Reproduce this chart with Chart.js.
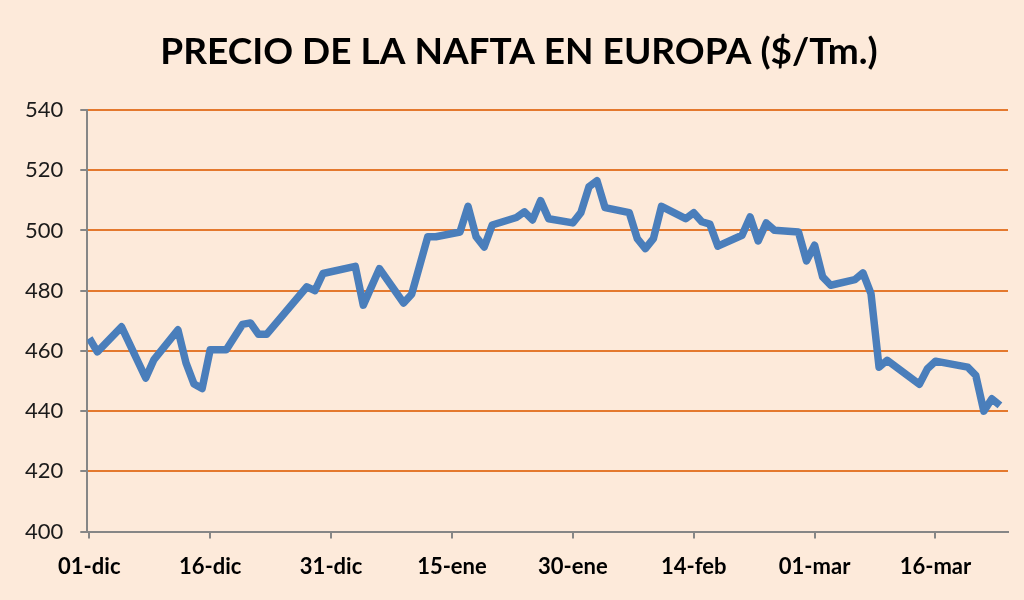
<!DOCTYPE html>
<html>
<head>
<meta charset="utf-8">
<script src="https://cdn.jsdelivr.net/npm/chart.js@4/dist/chart.umd.min.js"></script>
<style>
  html, body { margin: 0; padding: 0; background: #FDEADA; }
  #wrap { width: 1024px; height: 600px; }
</style>
</head>
<body>
<div id="wrap"><canvas id="naftaChart" width="1024" height="600"></canvas></div>
<script>
// days counted from 01-dic
const days = [0, 1, 4, 7, 8, 11, 12, 13, 14, 15, 17, 19, 20, 21, 22, 27, 28, 29, 33, 34,
    36, 39, 40, 42, 43, 46, 47, 48, 49, 50, 53, 54, 55, 56, 57, 60, 61, 62, 63, 64,
    67, 68, 69, 70, 71, 74, 75, 76, 77, 78, 81, 82, 83, 84, 85, 88, 89, 90, 91, 92,
    95, 96, 97, 98, 99, 103, 104, 105, 109, 110, 111, 112, 113];
const prices = [464.2, 459.7, 468, 451, 457, 467, 456, 449, 447.5, 460.4, 460.4, 468.8, 469.3, 465.5, 465.5, 481.3, 480, 485.7, 488.1, 475.2,
    487.3, 475.9, 478.8, 497.9, 497.9, 499.5, 508, 497.9, 494.5, 501.8, 504.3, 506.2, 503.5, 509.9, 503.9, 502.5, 505.9, 514.5, 516.5, 507.6,
    505.9, 497.3, 494, 497.3, 508, 503.9, 505.9, 502.9, 502.1, 494.8, 498.4, 504.5, 496.5, 502.5, 500.1, 499.5, 489.9, 495.1, 484.6, 481.8,
    483.7, 485.9, 479, 454.6, 456.9, 448.9, 454.1, 456.6, 454.6, 451.9, 440, 444.1, 441.9];
const dateLabels = ['01-dic', '16-dic', '31-dic', '15-ene', '30-ene', '14-feb', '01-mar', '16-mar'];
const yTicks = [400, 420, 440, 460, 480, 500, 520, 540];
const chartTitle = 'PRECIO DE LA NAFTA EN EUROPA ($/Tm.)';

const points = [];
for (let i = 0; i < days.length; i++) {
    points.push({x: days[i], y: prices[i]});
}

const axisGray = '#868686';
const gridOrange = '#E4792E';

// title is drawn by hand so it can sit a bit right of centre, like the original
const titlePlugin = {
    id: 'pageTitle',
    afterDraw(chart) {
        const c = chart.ctx;
        c.save();
        c.font = 'bold 37px Lato';
        c.fillStyle = '#000000';
        c.textAlign = 'center';
        c.textBaseline = 'middle';
        c.fillText(chartTitle, 519, 52);
        c.restore();
    }
};

const ctx = document.getElementById('naftaChart');
const chart = new Chart(ctx, {
    type: 'line',
    data: {
        datasets: [{
            label: 'Nafta',
            data: points,
            borderColor: '#4A7EBB',
            borderWidth: 7.5,
            borderJoinStyle: 'round',
            borderCapStyle: 'butt',
            pointRadius: 0,
            tension: 0,
            fill: false
        }]
    },
    options: {
        responsive: false,
        animation: false,
        layout: {
            padding: {left: 8, right: 16, top: 110, bottom: 5}
        },
        plugins: {
            legend: {display: false},
            tooltip: {enabled: false},
            title: {display: false}
        },
        scales: {
            x: {
                type: 'linear',
                min: -0.25,
                max: 114,
                afterBuildTicks: (axis) => {
                    axis.ticks = dateLabels.map((l, i) => ({value: i * 15}));
                },
                ticks: {
                    callback: (v) => dateLabels[Math.round(v / 15)],
                    color: '#000000',
                    font: {family: 'Lato', size: 22, weight: 'bold'},
                    padding: 15,
                    maxRotation: 0,
                    autoSkip: false
                },
                grid: {
                    drawOnChartArea: false,
                    drawTicks: true,
                    tickLength: 7,
                    tickColor: axisGray,
                    lineWidth: 2
                },
                border: {color: axisGray, width: 2}
            },
            y: {
                min: 400,
                max: 540,
                afterBuildTicks: (axis) => {
                    axis.ticks = yTicks.map(v => ({value: v}));
                },
                ticks: {
                    color: '#1a1a1a',
                    font: {family: 'Lato', size: 22},
                    padding: 17
                },
                grid: {
                    color: (c) => c.tick && c.tick.value === 400 ? 'rgba(0,0,0,0)' : gridOrange,
                    lineWidth: 2,
                    tickLength: 7,
                    tickColor: axisGray
                },
                border: {color: axisGray, width: 2}
            }
        }
    },
    plugins: [titlePlugin]
});
</script>
</body>
</html>
